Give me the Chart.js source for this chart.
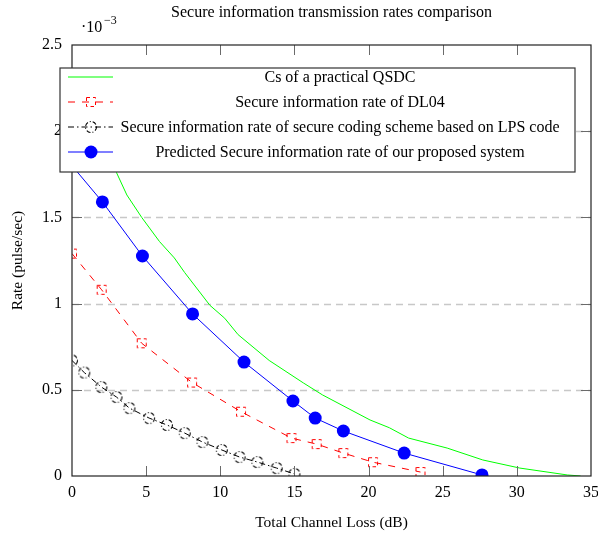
<!DOCTYPE html>
<html>
<head>
<meta charset="utf-8">
<script src="https://cdn.jsdelivr.net/npm/chart.js@4/dist/chart.umd.min.js"></script>
<style>
html, body { margin: 0; padding: 0; background: #fff; }
#wrap { width: 598px; height: 534px; }
</style>
</head>
<body>
<div id="wrap"><canvas id="c" width="598" height="534"></canvas></div>
<script>
// data (rate values in units of 10^-3)
var qsdcX = [0, 1, 2, 3, 3.7, 4.7, 5.9, 6.9, 7.6, 9.3, 10.3, 11.2, 13.3, 15.6, 16.9, 20.1, 21.4, 22.7, 25.3, 27.7, 30.2, 33.4, 34.3];
var qsdcY = [2.3, 2.12, 1.94, 1.76, 1.63, 1.5, 1.36, 1.265, 1.18, 0.99, 0.915, 0.82, 0.67, 0.54, 0.47, 0.325, 0.28, 0.22, 0.162, 0.093, 0.046, 0.006, 0];

var dl04X = [0, 2, 4.7, 8.1, 11.4, 14.8, 16.5, 18.3, 20.3, 23.5];
var dl04Y = [1.29, 1.08, 0.77, 0.542, 0.373, 0.22, 0.185, 0.133, 0.08, 0.023];

var lpsX = [0, 0.83, 1.98, 3.0, 3.87, 5.2, 6.4, 7.6, 8.8, 10.1, 11.3, 12.5, 13.8, 15.0];
var lpsY = [0.67, 0.6, 0.516, 0.458, 0.394, 0.336, 0.296, 0.249, 0.197, 0.151, 0.11, 0.081, 0.046, 0.012];

var oursX = [0, 2.05, 4.75, 8.13, 11.6, 14.9, 16.4, 18.3, 22.4, 27.65];
var oursY = [1.8, 1.59, 1.276, 0.94, 0.661, 0.435, 0.336, 0.261, 0.133, 0.006];

var xTicks = [0, 5, 10, 15, 20, 25, 30, 35];
var yTicks = [0, 0.5, 1, 1.5, 2, 2.5];

var seriesNames = [
	"Cs of a practical QSDC",
	"Secure information rate of DL04",
	"Secure information rate of secure coding scheme based on LPS code",
	"Predicted Secure information rate of our proposed system"
];

var FONT = "'Liberation Serif', 'DejaVu Serif', serif";

function toPts(xs, ys) {
	var r = [];
	for(var i = 0; i < xs.length; i++) {
		r.push({ x: xs[i], y: ys[i] });
	}
	return r;
}

// dashed square marker (mark inherits dash pattern)
function makeSquareMark() {
	var cv = document.createElement("canvas");
	cv.width = 14;
	cv.height = 14;
	var g = cv.getContext("2d");
	g.strokeStyle = "#ff0000";
	g.lineWidth = 1;
	g.setLineDash([3.5, 3]);
	g.strokeRect(2.5, 2.5, 9, 9);
	return cv;
}

// dash-dotted circle marker
function makeCircleMark() {
	var cv = document.createElement("canvas");
	cv.width = 16;
	cv.height = 16;
	var g = cv.getContext("2d");
	g.strokeStyle = "#000";
	g.lineWidth = 1.1;
	g.setLineDash([4, 2, 1, 2]);
	g.beginPath();
	g.arc(8, 8, 5.5, 0, Math.PI * 2);
	g.stroke();
	return cv;
}

var squareMark = makeSquareMark();
var circleMark = makeCircleMark();

var styles = [
	{ color: "#00ff00", dash: [], mark: null },
	{ color: "#ff0000", dash: [7, 7], mark: squareMark },
	{ color: "#000000", dash: [6, 3, 1.5, 3], mark: circleMark },
	{ color: "#0000ff", dash: [], mark: "dot" }
];

// frame, inward ticks, dashed grid, legend, title
var decoPlugin = {
	id: "deco",
	beforeDatasetsDraw: function(chart) {
		var g = chart.ctx;
		var a = chart.chartArea;
		var ys = chart.scales.y;
		g.save();
		g.strokeStyle = "#c8c8c8";
		g.lineWidth = 1.5;
		g.setLineDash([7, 5]);
		for(var i = 1; i < yTicks.length - 1; i++) {
			var py = Math.round(ys.getPixelForValue(yTicks[i])) + 0.5;
			g.beginPath();
			g.moveTo(a.left, py);
			g.lineTo(a.right, py);
			g.stroke();
		}
		g.restore();
	},
	afterDatasetsDraw: function(chart) {
		var g = chart.ctx;
		var a = chart.chartArea;
		var xs = chart.scales.x;
		var ys = chart.scales.y;
		var TL = 10;
		g.save();

		// ticks
		g.strokeStyle = "#6a6a6a";
		g.lineWidth = 1;
		g.setLineDash([]);
		for(var i = 1; i < xTicks.length - 1; i++) {
			var px = Math.round(xs.getPixelForValue(xTicks[i])) + 0.5;
			g.beginPath();
			g.moveTo(px, a.bottom);
			g.lineTo(px, a.bottom - TL);
			g.moveTo(px, a.top);
			g.lineTo(px, a.top + TL);
			g.stroke();
		}
		for(var i = 1; i < yTicks.length - 1; i++) {
			var py = Math.round(ys.getPixelForValue(yTicks[i])) + 0.5;
			g.beginPath();
			g.moveTo(a.left, py);
			g.lineTo(a.left + TL, py);
			g.moveTo(a.right, py);
			g.lineTo(a.right - TL, py);
			g.stroke();
		}

		// frame
		g.strokeStyle = "#222";
		g.lineWidth = 1.2;
		g.strokeRect(a.left, a.top, a.right - a.left, a.bottom - a.top);

		// legend
		var L = 60, T = 68, R = 575, B = 172;
		g.fillStyle = "#fff";
		g.fillRect(L, T, R - L, B - T);
		g.strokeStyle = "#333";
		g.lineWidth = 1.2;
		g.strokeRect(L, T, R - L, B - T);

		g.font = "16px " + FONT;
		g.textAlign = "center";
		g.textBaseline = "middle";
		for(var i = 0; i < seriesNames.length; i++) {
			var cy = 77 + i * 25;
			var st = styles[i];
			g.strokeStyle = st.color;
			g.lineWidth = 1.2;
			g.setLineDash(st.dash);
			g.beginPath();
			g.moveTo(68, cy);
			g.lineTo(113, cy);
			g.stroke();
			g.setLineDash([]);
			if(st.mark === "dot") {
				g.fillStyle = st.color;
				g.beginPath();
				g.arc(91, cy, 6.5, 0, Math.PI * 2);
				g.fill();
			} else if(st.mark) {
				g.drawImage(st.mark, 91 - st.mark.width / 2, cy - st.mark.height / 2);
			}
			g.fillStyle = "#000";
			g.fillText(seriesNames[i], 340, cy + 1);
		}

		// title and exponent
		g.fillStyle = "#000";
		g.font = "16px " + FONT;
		g.textAlign = "center";
		g.fillText("Secure information transmission rates comparison", (a.left + a.right) / 2, 13);
		g.textAlign = "left";
		g.font = "16px " + FONT;
		g.fillText("\u00b710", 81, 28);
		g.font = "12px " + FONT;
		g.fillText("\u22123", 104, 21);

		g.restore();
	}
};

var datasets = [
	{
		label: seriesNames[0],
		data: toPts(qsdcX, qsdcY),
		borderColor: styles[0].color,
		borderWidth: 1,
		pointRadius: 0,
		tension: 0
	},
	{
		label: seriesNames[1],
		data: toPts(dl04X, dl04Y),
		borderColor: styles[1].color,
		borderWidth: 1,
		borderDash: styles[1].dash,
		pointStyle: squareMark,
		pointRadius: 6,
		tension: 0
	},
	{
		label: seriesNames[2],
		data: toPts(lpsX, lpsY),
		borderColor: styles[2].color,
		borderWidth: 1,
		borderDash: styles[2].dash,
		pointStyle: circleMark,
		pointRadius: 6,
		tension: 0
	},
	{
		label: seriesNames[3],
		data: toPts(oursX, oursY),
		borderColor: styles[3].color,
		backgroundColor: styles[3].color,
		borderWidth: 1,
		pointStyle: "circle",
		pointRadius: 6.5,
		pointBorderWidth: 0,
		tension: 0
	}
];

var chart = new Chart(document.getElementById("c").getContext("2d"), {
	type: "line",
	data: { datasets: datasets },
	options: {
		responsive: false,
		animation: false,
		events: [],
		layout: { padding: { left: 0, right: 7, top: 45, bottom: 0 } },
		plugins: {
			legend: { display: false },
			title: { display: false },
			tooltip: { enabled: false }
		},
		scales: {
			x: {
				type: "linear",
				min: 0,
				max: 35,
				afterFit: function(s) { s.height = 58; s.paddingRight = 0; s.paddingLeft = 0; },
				afterBuildTicks: function(s) { s.ticks = xTicks.map(function(v) { return { value: v }; }); },
				grid: { display: false, drawTicks: false },
				border: { display: false },
				ticks: { color: "#000", padding: 7, font: { family: FONT, size: 16 }, maxRotation: 0 },
				title: { display: true, text: "Total Channel Loss (dB)", color: "#000", font: { family: FONT, size: 15.5 }, padding: { top: 0, bottom: 2 } }
			},
			y: {
				type: "linear",
				min: 0,
				max: 2.5,
				afterFit: function(s) { s.width = 72; },
				afterBuildTicks: function(s) { s.ticks = yTicks.map(function(v) { return { value: v }; }); },
				grid: { display: false, drawTicks: false },
				border: { display: false },
				ticks: { color: "#000", padding: 10, font: { family: FONT, size: 16 }, callback: function(v) { return String(v); } },
				title: { display: true, text: "Rate (pulse/sec)", color: "#000", font: { family: FONT, size: 15.5 }, padding: { top: 9, bottom: 0 } }
			}
		}
	},
	plugins: [decoPlugin]
});
</script>
</body>
</html>
